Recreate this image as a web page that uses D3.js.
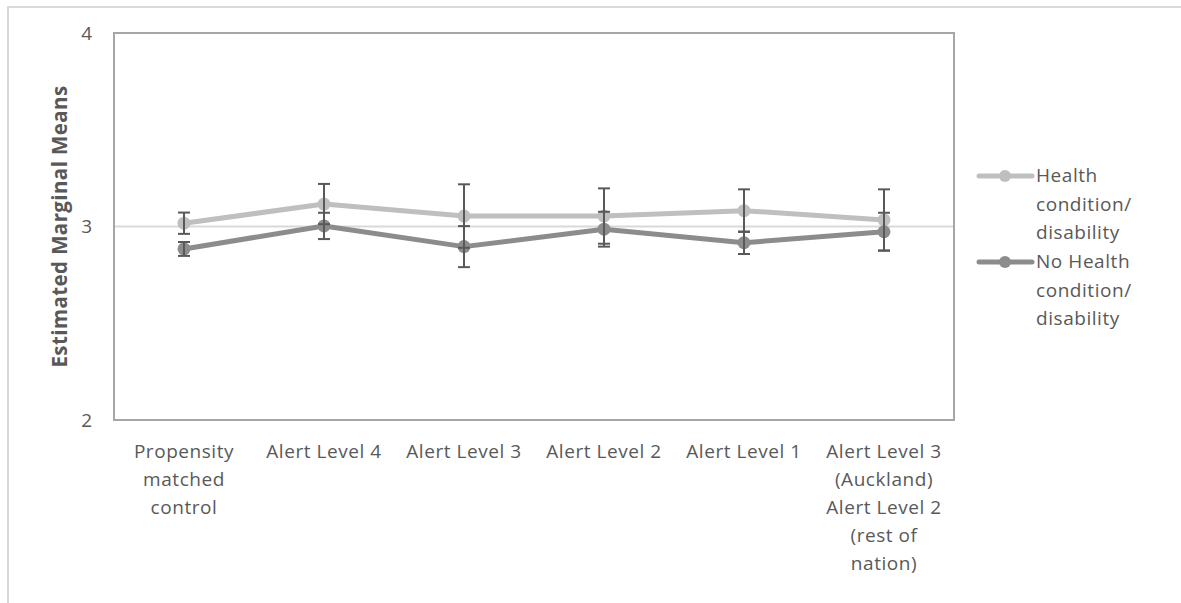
<!DOCTYPE html>
<html><head><meta charset="utf-8">
<script src="https://cdn.jsdelivr.net/npm/d3@7"></script>
<style>body{margin:0;background:#fff;}svg{display:block;font-family:"Open Sans",sans-serif;}</style>
</head><body><svg id="c" width="1181" height="603"></svg>
<script>
const categories = [
  ["Propensity","matched","control"],
  ["Alert Level 4"],
  ["Alert Level 3"],
  ["Alert Level 2"],
  ["Alert Level 1"],
  ["Alert Level 3","(Auckland)","Alert Level 2","(rest of","nation)"]
];
const seriesNames = [["Health","condition/","disability"],["No Health","condition/","disability"]];
const healthMeans = [3.017, 3.116, 3.054, 3.054, 3.082, 3.034];
const healthErr   = [0.055, 0.104, 0.164, 0.143, 0.110, 0.158];
const noHealthMeans = [2.884, 3.003, 2.896, 2.986, 2.916, 2.973];
const noHealthErr   = [0.036, 0.068, 0.106, 0.090, 0.058, 0.098];
const yTicks = [2, 3, 4];
const colors = ["#bfbfbf", "#8c8c8c"];

const svg = d3.select("#c");
const W = 1181, H = 603;
const M = {l:114, r:954, t:33, b:420};
const textCol = "#595959";
const FS = 19;
const LS = "0.55px";

svg.append("rect").attr("x",8).attr("y",7).attr("width",W).attr("height",H)
  .attr("fill","none").attr("stroke","#d9d9d9").attr("stroke-width",2);

const x = d3.scaleBand().domain(d3.range(categories.length)).range([M.l, M.r]);
const y = d3.scaleLinear().domain([2,4]).range([M.b, M.t]);

svg.append("g").selectAll("line").data(yTicks.filter(t=>t>2&&t<4)).join("line")
  .attr("x1",M.l).attr("x2",M.r).attr("y1",d=>y(d)).attr("y2",d=>y(d))
  .attr("stroke","#d9d9d9").attr("stroke-width",2);

svg.append("rect").attr("x",M.l).attr("y",M.t).attr("width",M.r-M.l).attr("height",M.b-M.t)
  .attr("fill","none").attr("stroke","#a6a6a6").attr("stroke-width",2);

const yAxis = d3.axisLeft(y).tickValues(yTicks).tickSize(0).tickPadding(0).tickFormat(d3.format("d"));
const ya = svg.append("g").attr("transform",`translate(92,0)`).call(yAxis);
ya.select(".domain").remove();
ya.selectAll("text").attr("font-size",FS).attr("fill",textCol).attr("font-family","Open Sans,sans-serif");

svg.append("text").attr("transform",`translate(67,${(M.t+M.b)/2}) rotate(-90)`)
  .attr("text-anchor","middle").attr("font-size",20.5).attr("font-weight","bold").attr("fill",textCol)
  .attr("letter-spacing","0.4px")
  .text("Estimated Marginal Means");

const xl = svg.append("g");
categories.forEach((lines,i)=>{
  const t = xl.append("text").attr("text-anchor","middle").attr("font-size",FS).attr("fill",textCol)
    .attr("letter-spacing",LS);
  lines.forEach((ln,j)=>{
    t.append("tspan").attr("x", x(i)+x.bandwidth()/2).attr("y", 458 + j*28).text(ln);
  });
});

const data = [
  {m: healthMeans, e: healthErr, c: colors[0]},
  {m: noHealthMeans, e: noHealthErr, c: colors[1]}
];
const cx = i => x(i)+x.bandwidth()/2;
const line = d3.line().x((d,i)=>cx(i)).y(d=>y(d));

data.forEach(s=>{
  svg.append("path").attr("d", line(s.m)).attr("fill","none").attr("stroke",s.c).attr("stroke-width",5)
    .attr("stroke-linejoin","round");
  svg.append("g").selectAll("circle").data(s.m).join("circle")
    .attr("cx",(d,i)=>cx(i)).attr("cy",d=>y(d)).attr("r",6.5).attr("fill",s.c);
});
data.forEach(s=>{
  const g = svg.append("g").attr("stroke","#595959").attr("stroke-width",2);
  s.m.forEach((v,i)=>{
    const lo = y(v - s.e[i]), hi = y(v + s.e[i]);
    g.append("line").attr("x1",cx(i)).attr("x2",cx(i)).attr("y1",lo).attr("y2",hi);
    g.append("line").attr("x1",cx(i)-6).attr("x2",cx(i)+6).attr("y1",lo).attr("y2",lo);
    g.append("line").attr("x1",cx(i)-6).attr("x2",cx(i)+6).attr("y1",hi).attr("y2",hi);
  });
});

const lg = svg.append("g");
seriesNames.forEach((lines,k)=>{
  const yy = 176 + k*86;
  lg.append("line").attr("x1",979).attr("x2",1032).attr("y1",yy).attr("y2",yy)
    .attr("stroke",colors[k]).attr("stroke-width",5).attr("stroke-linecap","round");
  lg.append("circle").attr("cx",1005).attr("cy",yy).attr("r",6).attr("fill",colors[k]);
  const t = lg.append("text").attr("font-size",FS).attr("fill",textCol).attr("letter-spacing",LS);
  lines.forEach((ln,j)=>{
    t.append("tspan").attr("x",1036).attr("y",yy+6+j*28.5).text(ln);
  });
});
</script></body></html>
